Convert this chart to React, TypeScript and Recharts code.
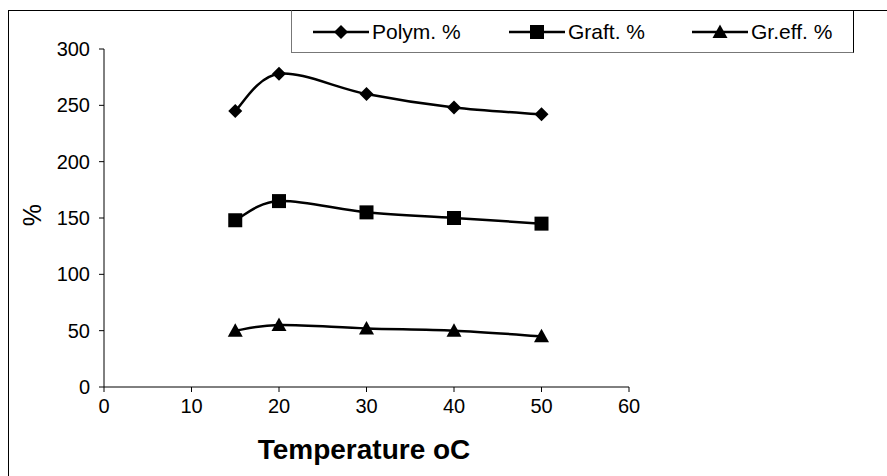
import React from 'react';
import { LineChart, Line, XAxis, YAxis, Legend } from 'recharts';

const temperatures = [15, 20, 30, 40, 50];
const polymPct = [245, 278, 260, 248, 242];
const graftPct = [148, 165, 155, 150, 145];
const grEffPct = [50, 55, 52, 50, 45];
const xTicks = [0, 10, 20, 30, 40, 50, 60];
const yTicks = [0, 50, 100, 150, 200, 250, 300];
const seriesNames = ['Polym. %', 'Graft. %', 'Gr.eff. %'];

const data = temperatures.map((t, i) => ({
  t,
  polym: polymPct[i],
  graft: graftPct[i],
  greff: grEffPct[i],
}));

const FONT = 'Liberation Sans, Arial, sans-serif';

// Excel-like smoothed curve (Catmull-Rom style Bezier)
const excelCurve: any = (context: any) => {
  let pts: number[][] = [];
  return {
    areaStart() {},
    areaEnd() {},
    lineStart() { pts = []; },
    point(x: number, y: number) { pts.push([+x, +y]); },
    lineEnd() {
      if (!pts.length) return;
      context.moveTo(pts[0][0], pts[0][1]);
      for (let i = 0; i < pts.length - 1; i++) {
        const p0 = pts[i - 1] || pts[i];
        const p1 = pts[i];
        const p2 = pts[i + 1];
        const p3 = pts[i + 2] || pts[i + 1];
        const c1x = p1[0] + (p2[0] - p0[0]) / 6;
        const c1y = p1[1] + (p2[1] - p0[1]) / 6;
        const c2x = p2[0] - (p3[0] - p1[0]) / 6;
        const c2y = p2[1] - (p3[1] - p1[1]) / 6;
        context.bezierCurveTo(c1x, c1y, c2x, c2y, p2[0], p2[1]);
      }
    },
  };
};

const Diamond = (props: any) => {
  const { cx, cy } = props;
  if (cx == null || cy == null) return null;
  const r = 7;
  return <path d={`M${cx},${cy - r}L${cx + r},${cy}L${cx},${cy + r}L${cx - r},${cy}Z`} fill="#000" />;
};
const Square = (props: any) => {
  const { cx, cy } = props;
  if (cx == null || cy == null) return null;
  const r = 7;
  return <rect x={cx - r} y={cy - r} width={2 * r} height={2 * r} fill="#000" />;
};
const Triangle = (props: any) => {
  const { cx, cy } = props;
  if (cx == null || cy == null) return null;
  const r = 7.5;
  return <path d={`M${cx},${cy - r}L${cx + r},${cy + r * 0.8}L${cx - r},${cy + r * 0.8}Z`} fill="#000" />;
};

const markerFor = (i: number, cx: number, cy: number) => {
  if (i === 0) return <Diamond cx={cx} cy={cy} />;
  if (i === 1) return <Square cx={cx} cy={cy} />;
  return <Triangle cx={cx} cy={cy} />;
};

const LegendBox = () => (
  <div
    style={{
      position: 'absolute',
      left: 291,
      top: 10,
      width: 563,
      height: 43,
      boxSizing: 'border-box',
      borderLeft: '1.5px solid #777',
      borderBottom: '1.5px solid #777',
      borderRight: '1.5px solid #000',
      borderTop: '1.5px solid #000',
      background: '#fff',
      fontFamily: FONT,
      fontSize: 21,
      color: '#000',
    }}
  >
    {seriesNames.map((name, i) => {
      const lefts = [21, 217, 400];
      return (
        <div
          key={name}
          style={{ position: 'absolute', left: lefts[i], top: 0, height: 41, display: 'flex', alignItems: 'center' }}
        >
          <svg width={56} height={20} style={{ display: 'block' }}>
            <line x1={0} y1={10} x2={56} y2={10} stroke="#000" strokeWidth={2.5} />
            {markerFor(i, 28, 10)}
          </svg>
          <span style={{ marginLeft: 3, lineHeight: '24px' }}>{name}</span>
        </div>
      );
    })}
  </div>
);

export default function App() {
  const tickStyle = { fill: '#000', fontSize: 20, fontFamily: FONT };
  return (
    <div style={{ position: 'absolute', left: 0, top: 0, width: 887, height: 476, background: '#fff', overflow: 'hidden' }}>
      <div
        style={{
          position: 'absolute',
          left: 8,
          top: 10,
          width: 900,
          height: 500,
          borderLeft: '1.5px solid #000',
          borderTop: '1.5px solid #000',
        }}
      />
      <LineChart
        width={887}
        height={476}
        data={data}
        margin={{ top: 49, right: 258, bottom: 59, left: 44 }}
        style={{ position: 'absolute', left: 0, top: 0 }}
      >
        <XAxis
          dataKey="t"
          type="number"
          domain={[0, 60]}
          ticks={xTicks}
          interval={0}
          height={30}
          tick={tickStyle}
          tickSize={5}
          tickMargin={7}
          axisLine={{ stroke: '#000', strokeWidth: 1 }}
          tickLine={{ stroke: '#000', strokeWidth: 1 }}
          label={() => (
            <text
              x={364}
              y={459}
              textAnchor="middle"
              style={{ fontFamily: FONT, fontWeight: 'bold', fontSize: 28, fill: '#000' }}
            >
              Temperature oC
            </text>
          )}
        />
        <YAxis
          type="number"
          domain={[0, 300]}
          ticks={yTicks}
          interval={0}
          width={60}
          tick={tickStyle}
          tickSize={5}
          tickMargin={9}
          axisLine={{ stroke: '#000', strokeWidth: 1 }}
          tickLine={{ stroke: '#000', strokeWidth: 1 }}
          label={() => (
            <text
              x={32}
              y={215}
              textAnchor="middle"
              dominantBaseline="central"
              transform="rotate(-90 32 215)"
              style={{ fontFamily: FONT, fontSize: 25, fill: '#000' }}
            >
              %
            </text>
          )}
        />
        <Legend content={() => <LegendBox />} wrapperStyle={{ position: 'absolute', left: 0, top: 0, width: 0, height: 0 }} />
        <Line dataKey="polym" name={seriesNames[0]} type={excelCurve} stroke="#000" strokeWidth={2.5} dot={<Diamond />} activeDot={false} isAnimationActive={false} />
        <Line dataKey="graft" name={seriesNames[1]} type={excelCurve} stroke="#000" strokeWidth={2.5} dot={<Square />} activeDot={false} isAnimationActive={false} />
        <Line dataKey="greff" name={seriesNames[2]} type={excelCurve} stroke="#000" strokeWidth={2.5} dot={<Triangle />} activeDot={false} isAnimationActive={false} />
      </LineChart>
    </div>
  );
}
